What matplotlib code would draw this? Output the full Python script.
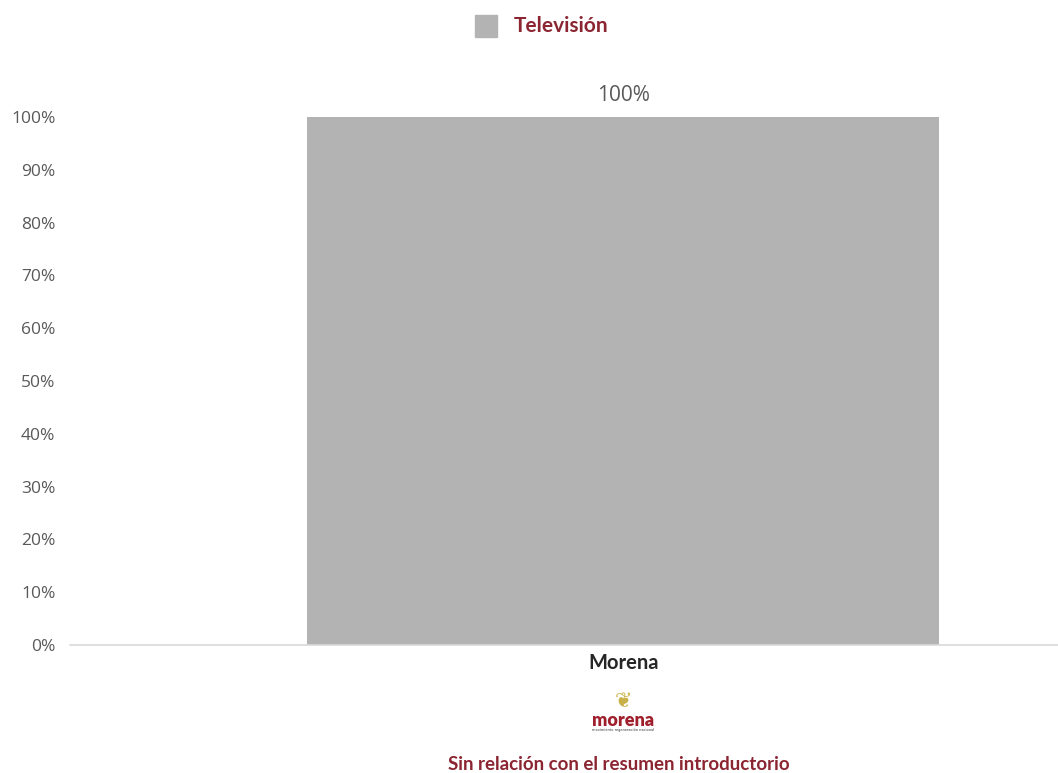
import matplotlib
matplotlib.use("Agg")
import matplotlib.pyplot as plt
from matplotlib.patches import Rectangle

categories = ["Morena"]
values = [100]
series_name = "Televisión"
yticks = [0, 10, 20, 30, 40, 50, 60, 70, 80, 90, 100]
ytick_labels = [f"{v}%" for v in yticks]
footer = "Sin relación con el resumen introductorio"

BAR = "#b3b3b3"
RED = "#8c2532"
GRAY_TXT = "#595959"
NARROW = ["Lato", "DejaVu Sans"]

fig = plt.figure(figsize=(10.58, 7.73), dpi=100)
W, H = 1058, 773
ax = fig.add_axes([70 / W, 1 - 645 / H, (1058 - 70) / W, (645 - 117) / H])

x = list(range(len(categories)))
bars = ax.bar(x, values, width=0.64, color=BAR, zorder=2)
ax.set_xlim(-0.56, 0.44)
ax.set_ylim(0, 100)
ax.set_yticks(yticks)
ax.set_yticklabels(ytick_labels, fontsize=12.5, color=GRAY_TXT, family=["Open Sans", "DejaVu Sans"])
ax.set_xticks(x)
ax.set_xticklabels(categories, fontsize=14.5, fontweight="bold", color="#262626", family=NARROW)
ax.tick_params(axis="y", length=0, pad=10.5)
ax.tick_params(axis="x", length=0, pad=6)
for s in ["top", "right", "left"]:
    ax.spines[s].set_visible(False)
ax.spines["bottom"].set_color("#d9d9d9")
ax.spines["bottom"].set_linewidth(1.2)
ax.set_facecolor("none")

for b, v in zip(bars, values):
    ax.annotate(f"{v}%", (b.get_x() + b.get_width() / 2, v), xytext=(0, 8),
                textcoords="offset points", ha="center", va="bottom",
                fontsize=15, color=GRAY_TXT, family=["Open Sans", "DejaVu Sans"])

# legend
fig.patches.append(Rectangle((475 / W, 1 - 37 / H), 22 / W, 22 / H,
                             transform=fig.transFigure, color=BAR))
fig.text(514 / W, 1 - 26 / H, series_name, ha="left", va="center",
         fontsize=15, fontweight="bold", color=RED, family=NARROW)

# logo approximation
fig.text(623 / W, 1 - 701 / H, "\u2766", ha="center", va="center", fontsize=15,
         color="#c9b14a", family=["DejaVu Sans"])
fig.text(623 / W, 1 - 720 / H, "morena", ha="center", va="center", fontsize=13,
         fontweight="heavy", color="#a01f2d", family=["Lato", "DejaVu Sans"])
fig.text(623 / W, 1 - 730 / H, "movimiento regeneración nacional", ha="center",
         va="center", fontsize=2.5, color="#333333", family=["DejaVu Sans"])

fig.text(619 / W, 1 - 765 / H, footer, ha="center", va="center",
         fontsize=13.5, fontweight="bold", color=RED, family=NARROW)

fig.savefig("out.png", dpi=100, facecolor="white")
